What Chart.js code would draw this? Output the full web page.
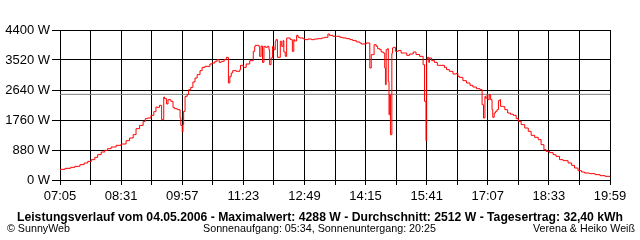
<!DOCTYPE html>
<html>
<head>
<meta charset="utf-8">
<script src="https://cdn.jsdelivr.net/npm/chart.js@4/dist/chart.umd.min.js"></script>
<style>
  html, body { margin: 0; padding: 0; background: #fff; }
  #wrap { width: 640px; height: 240px; }
</style>
</head>
<body>
<div id="wrap"><canvas id="powerChart" width="640" height="240"></canvas></div>
<script>
// Leistungsverlauf 04.05.2006
const times = [
  '07:05','07:12','07:20','07:26','07:33','07:39','07:44','07:49','07:54','07:58',
  '08:03','08:08','08:12','08:17','08:24','08:31','08:38','08:43','08:48','08:52',
  '08:57','09:02','09:05','09:08','09:13','09:17','09:20','09:22','09:25','09:28',
  '09:31','09:32','09:35','09:37','09:41','09:44','09:46','09:50','09:54','09:55',
  '09:57','09:58','09:59','10:01','10:04','10:06','10:09','10:12','10:15','10:18',
  '10:22','10:25','10:29','10:36','10:39','10:43','10:46','10:49','10:52','10:56',
  '10:59','11:02','11:04','11:06','11:08','11:13','11:18','11:19','11:23','11:27',
  '11:32','11:37','11:39','11:40','11:45','11:46','11:48','11:50','11:52','11:54',
  '11:57','11:59','12:00','12:02','12:04','12:06','12:08','12:09','12:11','12:15',
  '12:17','12:19','12:20','12:22','12:24','12:29','12:32','12:34','12:35','12:38',
  '12:40','12:42','12:47','12:49','12:54','12:59','13:03','13:08','13:13','13:17',
  '13:22','13:24','13:29','13:34','13:39','13:43','13:48','13:53','13:57','14:02',
  '14:07','14:09','14:16','14:21','14:23','14:27','14:30','14:32','14:35','14:37',
  '14:40','14:42','14:43','14:44','14:46','14:47','14:48','14:49','14:50','14:52',
  '14:53','14:54','14:57','15:01','15:05','15:10','15:13','15:17','15:22','15:26',
  '15:31','15:36','15:38','15:40','15:41','15:42','15:44','15:45','15:48','15:52',
  '15:56','15:57','16:06','16:09','16:13','16:18','16:23','16:25','16:27','16:32',
  '16:37','16:42','16:46','16:51','16:56','16:59','17:01','17:03','17:04','17:06',
  '17:07','17:09','17:11','17:13','17:14','17:16','17:18','17:20','17:22','17:24',
  '17:25','17:28','17:31','17:35','17:39','17:43','17:47','17:50','17:54','17:59',
  '18:04','18:08','18:13','18:18','18:22','18:26','18:29','18:34','18:39','18:43',
  '18:48','18:53','19:00','19:05','19:09','19:14','19:19','19:23','19:30','19:38',
  '19:45','19:52','19:59'
];
const watts = [
  280, 313, 342, 372, 401, 450, 499, 547, 596, 665,
  743, 821, 870, 919, 968, 1017, 1056, 1154, 1232, 1330,
  1506, 1603, 1720, 1799, 1819, 1897, 2004, 2141, 2131, 2190,
  1770, 2435, 2386, 2229, 2356, 2307, 2131, 2092, 2063, 1819,
  1603, 1408, 1623, 2014, 2454, 2503, 2650, 2718, 2875, 2992,
  3090, 3207, 3305, 3334, 3403, 3432, 3481, 3530, 3452, 3481,
  3530, 3598, 2845, 3040, 3139, 3207, 3188, 3237, 3364, 3305,
  3403, 3500, 3774, 3921, 3950, 3911, 3628, 3930, 3450, 3921,
  3892, 3921, 3823, 3383, 3580, 3921, 3823, 4068, 4117, 3598,
  4070, 3920, 4090, 3755, 3628, 4166, 4117, 3774, 4117, 4078,
  4244, 4185, 4166, 4146, 4117, 4136, 4117, 4136, 4146, 4166,
  4185, 4283, 4244, 4215, 4215, 4185, 4166, 4146, 4117, 4088,
  4049, 4019, 3990, 4019, 3285, 3676, 3969, 3920, 3852, 3823,
  3755, 3725, 3285, 2796, 3823, 3852, 2894, 1916, 2503, 1330,
  3716, 3872, 3891, 3774, 3800, 3725, 3725, 3657, 3696, 3755,
  3680, 3628, 3383, 2307, 1154, 3530, 3598, 3450, 3579, 3500,
  3450, 3364, 3364, 3305, 3237, 3188, 3109, 3130, 3040, 3012,
  2914, 2845, 2777, 2728, 2679, 2650, 2210, 1819, 2454, 2400,
  2503, 2356, 2503, 2356, 2063, 1838, 1965, 2014, 2063, 2327,
  2356, 2161, 2151, 2063, 1965, 1930, 1897, 1799, 1720, 1623,
  1525, 1428, 1310, 1252, 1183, 1036, 890, 841, 802, 743,
  694, 597, 567, 499, 430, 352, 274, 235, 205, 186,
  157, 127, 108
];
const xTickLabels = ['07:05','08:31','09:57','11:23','12:49','14:15','15:41','17:07','18:33','19:59'];
const yTicks = [0, 880, 1760, 2640, 3520, 4400];
const averageW = 2512;

const titleLine = 'Leistungsverlauf vom 04.05.2006 - Maximalwert: 4288 W - Durchschnitt: 2512 W - Tagesertrag: 32,40 kWh';
const footLeft = '\u00A9 SunnyWeb';
const footMid = 'Sonnenaufgang: 05:34, Sonnenuntergang: 20:25';
const footRight = 'Verena & Heiko Wei\u00DF';

function toMin(t) {
  const p = t.split(':');
  return parseInt(p[0], 10) * 60 + parseInt(p[1], 10);
}
const startMin = toMin(xTickLabels[0]);
const endMin = toMin(xTickLabels[xTickLabels.length - 1]);

const points = times.map((t, i) => ({ x: toMin(t) - startMin, y: watts[i] }));

const axisFont = { family: '"Liberation Sans Narrow", "Liberation Sans", Arial, sans-serif', size: 13 };

// draw text squeezed/stretched to a given width
function fitText(ctx, text, x, y, width, font) {
  ctx.font = font;
  const w = ctx.measureText(text).width;
  ctx.save();
  ctx.translate(x, y);
  ctx.scale(width / w, 1);
  ctx.textAlign = 'left';
  ctx.fillText(text, 0, 0);
  ctx.restore();
}

const footerText = {
  id: 'footerText',
  afterDraw(chart) {
    const ctx = chart.ctx;
    ctx.save();
    ctx.fillStyle = '#000';
    ctx.textBaseline = 'alphabetic';
    fitText(ctx, titleLine, 17, 221, 606, 'bold 12px "Liberation Sans", Arial, sans-serif');
    fitText(ctx, footLeft, 7, 232, 63, '11px "Liberation Sans", Arial, sans-serif');
    fitText(ctx, footMid, 203, 232, 233, '11px "Liberation Sans", Arial, sans-serif');
    fitText(ctx, footRight, 533, 232, 102, '11px "Liberation Sans", Arial, sans-serif');
    ctx.restore();
  }
};

const ctx = document.getElementById('powerChart').getContext('2d');
const chart = new Chart(ctx, {
  type: 'line',
  data: {
    datasets: [
      {
        label: 'Durchschnitt',
        data: [{ x: 0, y: averageW }, { x: endMin - startMin, y: averageW }],
        borderColor: '#808080',
        borderWidth: 1,
        pointRadius: 0,
        order: 2
      },
      {
        label: 'Leistung',
        data: points,
        borderColor: '#ff0000',
        borderWidth: 1,
        pointRadius: 0,
        stepped: 'after',
        order: 1
      }
    ]
  },
  options: {
    responsive: false,
    animation: false,
    layout: { padding: { top: 30, right: 30, left: 0, bottom: 0 } },
    plugins: {
      legend: { display: false },
      tooltip: { enabled: false }
    },
    scales: {
      x: {
        type: 'linear',
        min: 0,
        max: endMin - startMin,
        afterFit: (scale) => { scale.height = 60; },
        grid: { color: '#000', lineWidth: 1, tickLength: 5, tickColor: '#000' },
        border: { color: '#000', width: 1 },
        ticks: {
          stepSize: 43,
          maxTicksLimit: 100,
          autoSkip: false,
          maxRotation: 0,
          padding: 4,
          color: '#000',
          font: axisFont,
          callback: (value, index) => (index % 2 === 0 ? xTickLabels[index / 2] : '')
        }
      },
      y: {
        min: yTicks[0],
        max: yTicks[yTicks.length - 1],
        afterFit: (scale) => { scale.width = 60; },
        grid: { color: '#000', lineWidth: 1, tickLength: 8, tickColor: '#000' },
        border: { color: '#000', width: 1 },
        ticks: {
          stepSize: yTicks[1] - yTicks[0],
          padding: 2,
          color: '#000',
          font: axisFont,
          callback: (value) => value + ' W'
        }
      }
    }
  },
  plugins: [footerText]
});
</script>
</body>
</html>
